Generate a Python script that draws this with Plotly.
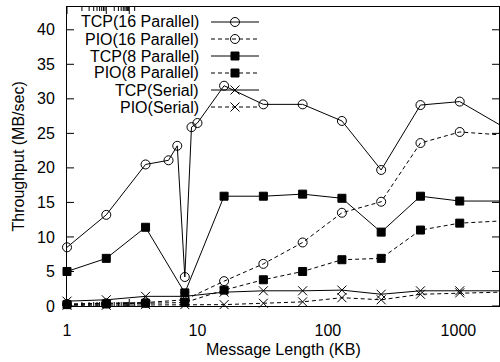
import math
import plotly.graph_objects as go

# ---- data ----
x_fine = [1, 2, 4, 6, 7, 8, 9, 10, 16, 32, 64, 128, 256, 512, 1024, 2048]
x_std = [1, 2, 4, 8, 16, 32, 64, 128, 256, 512, 1024, 2048]

tcp16 = [8.5, 13.2, 20.5, 21.1, 23.2, 4.2, 25.9, 26.5, 31.9, 29.2, 29.2, 26.8, 19.7, 29.1, 29.6, 26.3]
pio16 = [0.3, 0.4, 0.5, 0.9, 3.6, 6.1, 9.2, 13.5, 15.1, 23.6, 25.2, 24.8]
tcp8 = [5.0, 6.9, 11.4, 1.9, 15.9, 15.9, 16.2, 15.6, 10.7, 15.9, 15.2, 15.2]
pio8 = [0.2, 0.3, 0.4, 0.5, 2.3, 3.8, 5.0, 6.7, 6.9, 11.0, 12.0, 12.3]
tcp_serial = [0.7, 0.9, 1.4, 1.4, 2.0, 2.2, 2.2, 2.3, 1.7, 2.2, 2.2, 2.2]
pio_serial = [0.1, 0.1, 0.2, 0.2, 0.2, 0.4, 0.6, 1.2, 0.9, 1.7, 1.9, 2.0]

names = ["TCP(16 Parallel)", "PIO(16 Parallel)", "TCP(8 Parallel)",
         "PIO(8 Parallel)", "TCP(Serial)", "PIO(Serial)"]
xs = [x_fine, x_std, x_std, x_std, x_std, x_std]
ys = [tcp16, pio16, tcp8, pio8, tcp_serial, pio_serial]
dashes = ["solid", "4px,3px", "solid", "4px,3px", "solid", "4px,3px"]
symbols = ["circle-open", "circle-open", "square", "square", "x-thin-open", "x-thin-open"]
sizes = [9, 9, 8, 8, 9, 9]

y_ticks = [0, 5, 10, 15, 20, 25, 30, 35, 40]
x_ticks = [1, 10, 100, 1000]
x_minor = [2, 3, 4, 5, 6, 7, 8, 9, 20, 30, 40, 50, 60, 70, 80, 90,
           200, 300, 400, 500, 600, 700, 800, 900, 2000]

FONT = "Liberation Sans, Arial, Helvetica, sans-serif"
FS = 16

# plot area geometry (pixels)
W, H = 500, 362
L, R, T, B = 67, 1, 7, 56
PW, PH = W - L - R, H - T - B
XRANGE = [0, 3.3113]
YRANGE = [0, 43.3]
MAJOR_LEN, MINOR_LEN = 7, 4

fig = go.Figure()
for name, x, y, d, s, sz in zip(names, xs, ys, dashes, symbols, sizes):
    fig.add_trace(go.Scatter(
        x=x, y=y, name=name, mode="lines+markers",
        line=dict(color="black", width=1, dash=d),
        marker=dict(symbol=s, size=sz, color="black",
                    line=dict(color="black", width=1)),
        cliponaxis=False, showlegend=False))

# ---- gnuplot-style key: text right-aligned, then line sample ----
row_y = [22, 39, 56, 73, 90, 107]
text_right = 201
samp_x0, samp_x1, samp_mx = 211, 259, 235
leg_mx, leg_my = [], []
for name, yc, d in zip(names, row_y, dashes):
    py = (H - B - yc) / PH
    fig.add_annotation(text=name, xref="paper", yref="paper",
                       x=(text_right - L) / PW, y=py, xanchor="right",
                       yanchor="middle", showarrow=False,
                       font=dict(family=FONT, size=FS, color="black"))
    fig.add_shape(type="line", xref="paper", yref="paper",
                  x0=(samp_x0 - L) / PW, x1=(samp_x1 - L) / PW, y0=py, y1=py,
                  line=dict(color="black", width=1, dash=d))
    leg_mx.append((samp_mx - L) / PW)
    leg_my.append(py)

for mx, my, s, sz in zip(leg_mx, leg_my, symbols, sizes):
    fig.add_trace(go.Scatter(
        x=[mx], y=[my], mode="markers", xaxis="x2", yaxis="y2",
        marker=dict(symbol=s, size=sz, color="black",
                    line=dict(color="black", width=1)),
        showlegend=False, hoverinfo="skip"))

# gnuplot-style inside tick marks on all four sides
# (log axis: shape coordinates are log10 of the tick value)
for xv in x_ticks + x_minor:
    ln = MAJOR_LEN if xv in x_ticks else MINOR_LEN
    lx = math.log10(xv)
    for y0, y1 in [(0, ln / PH), (1, 1 - ln / PH)]:
        fig.add_shape(type="line", xref="x", yref="paper", x0=lx, x1=lx,
                      y0=y0, y1=y1, line=dict(color="black", width=1))
for yv in y_ticks:
    for x0, x1 in [(0, MAJOR_LEN / PW), (1, 1 - MAJOR_LEN / PW)]:
        fig.add_shape(type="line", xref="paper", yref="y", x0=x0, x1=x1,
                      y0=yv, y1=yv, line=dict(color="black", width=1))

# axis titles
fig.add_annotation(text="Throughput (MB/sec)", xref="paper", yref="paper",
                   x=(18 - L) / PW, y=0.5, xanchor="center", yanchor="middle",
                   textangle=-90, showarrow=False,
                   font=dict(family=FONT, size=FS, color="black"))
fig.add_annotation(text="Message Length (KB)", xref="paper", yref="paper",
                   x=0.5, y=-(350 - (H - B)) / PH, xanchor="center",
                   yanchor="middle", showarrow=False,
                   font=dict(family=FONT, size=FS, color="black"))

fig.update_layout(
    width=W, height=H,
    margin=dict(l=L, r=R, t=T, b=B),
    paper_bgcolor="white", plot_bgcolor="white",
    font=dict(family=FONT, size=FS, color="black"),
    showlegend=False,
    xaxis=dict(
        type="log", range=XRANGE,
        tickmode="array", tickvals=x_ticks, ticktext=[str(v) for v in x_ticks],
        ticks="", showline=True, linecolor="black", linewidth=1, mirror=True,
        showgrid=False, zeroline=False, ticklabelstandoff=10,
    ),
    yaxis=dict(
        range=YRANGE, tickmode="array", tickvals=y_ticks,
        ticks="", showline=True, linecolor="black", linewidth=1, mirror=True,
        showgrid=False, zeroline=False, ticklabelstandoff=8,
    ),
    xaxis2=dict(overlaying="x", range=[0, 1], visible=False),
    yaxis2=dict(overlaying="y", range=[0, 1], visible=False),
)

fig.write_html("out.html", config={"displayModeBar": False},
               post_script="document.body.style.margin='0';")
